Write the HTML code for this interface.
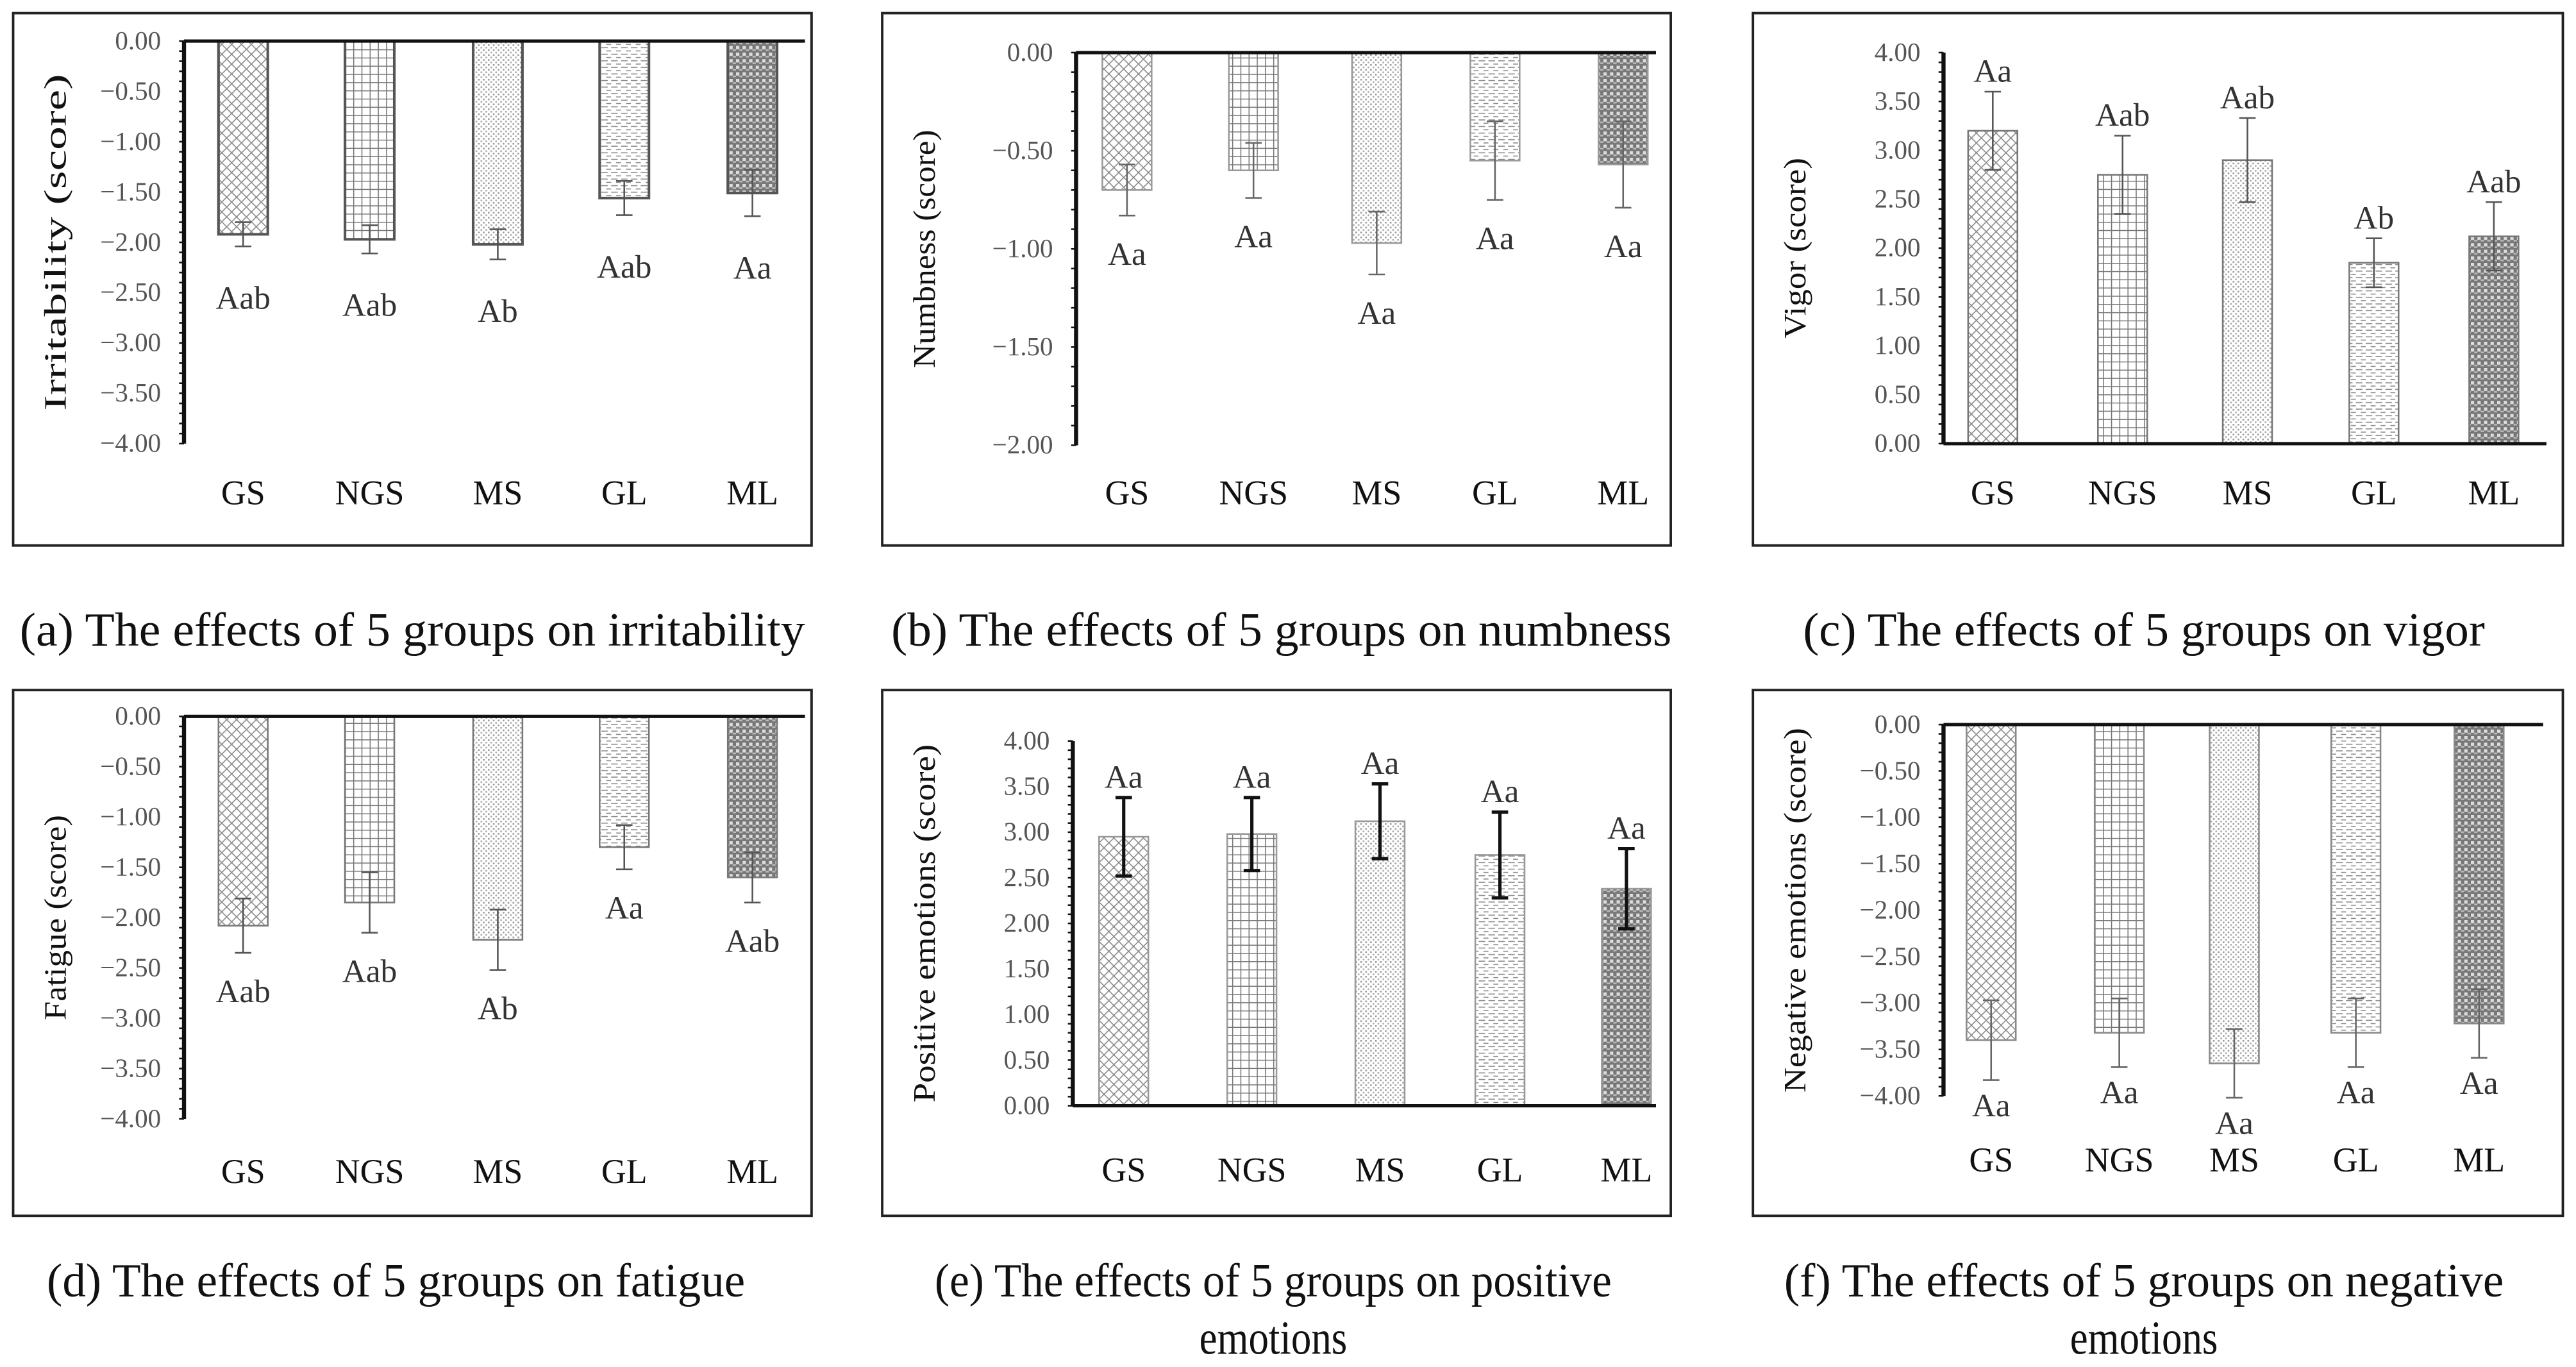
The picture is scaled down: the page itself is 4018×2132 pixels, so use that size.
<!DOCTYPE html>
<html><head><meta charset="utf-8"><style>
html,body{margin:0;padding:0;background:#fff;}
svg{display:block;font-family:"Liberation Serif","Times New Roman",serif;}
svg text{font-family:"Liberation Serif","Times New Roman",serif;}
</style></head><body>
<svg id="fig" width="4018" height="2132" viewBox="0 0 1568 832" preserveAspectRatio="none" font-family="Liberation Serif, serif" xmlns="http://www.w3.org/2000/svg">
<defs>
<pattern id="p0" patternUnits="userSpaceOnUse" width="6" height="6"><rect width="6" height="6" fill="#fff"/><path d="M0 0L6 6M6 0L0 6" stroke="#888" stroke-width="0.6"/></pattern>
<pattern id="p1" patternUnits="userSpaceOnUse" width="5" height="5"><rect width="5" height="5" fill="#fff"/><path d="M0 0.3H5M0.3 0V5" stroke="#777" stroke-width="0.6"/></pattern>
<pattern id="p2" patternUnits="userSpaceOnUse" width="3" height="3"><rect width="3" height="3" fill="#fff"/><rect x="0" y="0" width="1" height="1" fill="#999"/><rect x="1.5" y="1.5" width="1" height="1" fill="#aaa"/></pattern>
<pattern id="p3" patternUnits="userSpaceOnUse" width="6" height="4"><rect width="6" height="4" fill="#fff"/><path d="M0 1H4" stroke="#888" stroke-width="0.6"/><path d="M3 3H7" stroke="#888" stroke-width="0.6"/></pattern>
<pattern id="p4" patternUnits="userSpaceOnUse" width="4" height="4"><rect width="4" height="4" fill="#777"/><rect x="0" y="0" width="2" height="2" fill="#ddd"/><rect x="2" y="2" width="2" height="1" fill="#bbb"/></pattern>
</defs>
</svg>
<script>
const categories = ["GS","NGS","MS","GL","ML"];
const valsA = [-1.92,-1.97,-2.02,-1.56,-1.51];
const errsA = [0.12,0.14,0.15,0.17,0.23];
const lettersA = ["Aab","Aab","Ab","Aab","Aa"];
const valsB = [-0.70,-0.60,-0.97,-0.55,-0.57];
const errsB = [0.13,0.14,0.16,0.20,0.22];
const lettersB = ["Aa","Aa","Aa","Aa","Aa"];
const valsC = [3.20,2.75,2.90,1.85,2.12];
const errsC = [0.40,0.40,0.43,0.25,0.35];
const lettersC = ["Aa","Aab","Aab","Ab","Aab"];
const valsD = [-2.08,-1.85,-2.22,-1.30,-1.60];
const errsD = [0.27,0.30,0.30,0.22,0.25];
const lettersD = ["Aab","Aab","Ab","Aa","Aab"];
const valsE = [2.95,2.98,3.12,2.75,2.38];
const errsE = [0.43,0.40,0.41,0.47,0.44];
const lettersE = ["Aa","Aa","Aa","Aa","Aa"];
const valsF = [-3.40,-3.32,-3.65,-3.32,-3.22];
const errsF = [0.43,0.37,0.37,0.37,0.37];
const lettersF = ["Aa","Aa","Aa","Aa","Aa"];
const ticksNeg4 = [0,-0.5,-1,-1.5,-2,-2.5,-3,-3.5,-4];
const ticksNeg2 = [0,-0.5,-1,-1.5,-2];
const ticksPos4 = [0,0.5,1,1.5,2,2.5,3,3.5,4];

const NS="http://www.w3.org/2000/svg";
const svg=document.getElementById('fig');
const FF='"Liberation Serif", serif';
function mk(tag,attrs,parent){const e=document.createElementNS(NS,tag);for(const k in attrs)e.setAttribute(k,attrs[k]);if(tag==='text')e.setAttribute('font-family',FF);(parent||svg).appendChild(e);return e;}
function fmt(v){const s=Math.abs(v).toFixed(2);return v<0?'\u2212'+s:s;}

const panels=[
 {id:'a',frame:[8,8,486,324],ax:112,xEnd:490,yMin:-4,yMax:0,yAtMin:270,yAtMax:25,cx:[148,225,303,380,458],labY:307,ticks:ticksNeg4,vals:valsA,errs:errsA,letters:lettersA,lo:38,title:'Irritability (score)',tl:205,cap:['(a) The effects of 5 groups on irritability'],capL:[478],capX:251,err:'#555',ew:1,barStroke:'#555',bw:1.6},
 {id:'b',frame:[537,8,480,324],ax:655,xEnd:1008,yMin:-2,yMax:0,yAtMin:271,yAtMax:32,cx:[686,763,838,910,988],labY:307,ticks:ticksNeg2,vals:valsB,errs:errsB,letters:lettersB,lo:30,title:'Numbness (score)',tl:145,cap:['(b) The effects of 5 groups on numbness'],capL:[475],capX:780,err:'#666',ew:1,barStroke:'#999',bw:1},
 {id:'c',frame:[1067,8,493,324],ax:1183,xEnd:1550,yMin:0,yMax:4,yAtMin:270,yAtMax:32,cx:[1213,1292,1368,1445,1518],labY:307,ticks:ticksPos4,vals:valsC,errs:errsC,letters:lettersC,lo:-6,title:'Vigor (score)',tl:110,cap:['(c) The effects of 5 groups on vigor'],capX:1305,capL:[415],err:'#555',ew:1,barStroke:'#777',bw:1},
 {id:'d',frame:[8,420,486,320],ax:112,xEnd:490,yMin:-4,yMax:0,yAtMin:681,yAtMax:436,cx:[148,225,303,380,458],labY:720,ticks:ticksNeg4,vals:valsD,errs:errsD,letters:lettersD,lo:30,title:'Fatigue (score)',tl:125,cap:['(d) The effects of 5 groups on fatigue'],capL:[425],capX:241,err:'#555',ew:1,barStroke:'#777',bw:1},
 {id:'e',frame:[537,420,480,320],ax:653,xEnd:1008,yMin:0,yMax:4,yAtMin:673,yAtMax:451,cx:[684,762,840,913,990],labY:719,ticks:ticksPos4,vals:valsE,errs:errsE,letters:lettersE,lo:-6,title:'Positive emotions (score)',tl:218,cap:['(e) The effects of 5 groups on positive','emotions'],capL:[412,90],capX:775,err:'#111',ew:2,barStroke:'#999',bw:1},
 {id:'f',frame:[1067,420,493,320],ax:1183,xEnd:1548,yMin:-4,yMax:0,yAtMin:667,yAtMax:441,cx:[1212,1290,1360,1434,1509],labY:713,ticks:ticksNeg4,vals:valsF,errs:errsF,letters:lettersF,lo:22,title:'Negative emotions (score)',tl:222,cap:['(f) The effects of 5 groups on negative','emotions'],capL:[438,90],capX:1305,err:'#666',ew:1,barStroke:'#888',bw:1}
];

panels.forEach(p=>{
 const g=mk('g',{});
 
 
 const y=v=>p.yAtMax+(v-p.yMax)/(p.yMin-p.yMax)*(p.yAtMin-p.yAtMax);
 const fr=mk('rect',{x:p.frame[0],y:p.frame[1],width:p.frame[2],height:p.frame[3],fill:'none',stroke:'#222','stroke-width':1.5},g);
 
 
 p.vals.forEach((v,i)=>{
  const top=Math.min(y(v),y(0)),h=Math.abs(y(v)-y(0));
  const b=mk('rect',{x:p.cx[i]-15,y:top,width:30,height:h,fill:'url(#p'+i+')',stroke:p.barStroke,'stroke-width':p.bw},g);
  
  
  const e1=y(v-p.errs[i]),e2=y(v+p.errs[i]);
  const eb=mk('path',{d:`M${p.cx[i]} ${e1}V${e2}M${p.cx[i]-5} ${e1}H${p.cx[i]+5}M${p.cx[i]-5} ${e2}H${p.cx[i]+5}`,stroke:p.err,'stroke-width':p.ew,fill:'none'},g);
  
  
  const ly=v<0?Math.max(e1,e2)+p.lo:Math.min(e1,e2)+p.lo;
  const lt=mk('text',{x:p.cx[i],y:ly,'font-size':20,'text-anchor':'middle',fill:'#333'},g);
  lt.textContent=p.letters[i];
  
  
  const cl=mk('text',{x:p.cx[i],y:p.labY,'font-size':21,'text-anchor':'middle',fill:'#111'},g);
  cl.textContent=categories[i];
  
  
 });
 const yTop=Math.min(y(p.yMin),y(p.yMax)),yBot=Math.max(y(p.yMin),y(p.yMax));
 const ya=mk('line',{x1:p.ax,y1:yTop,x2:p.ax,y2:yBot,stroke:'#111','stroke-width':2.5},g);
 
 
 for(let k=0;k<=Math.round((p.yMax-p.yMin)/0.1);k++){
  const v=p.yMin+k*0.1;
  mk('line',{x1:p.ax-3,y1:y(v),x2:p.ax,y2:y(v),stroke:'#111','stroke-width':1},g);
 }
 const za=mk('line',{x1:p.ax,y1:y(0),x2:p.xEnd,y2:y(0),stroke:'#111','stroke-width':2},g);
 
 
 p.ticks.forEach(t=>{
  const tl=mk('text',{x:p.ax-14,y:y(t)+5,'font-size':16,'text-anchor':'end',fill:'#555'},g);
  tl.textContent=fmt(t);
  
  
 });
 const my=(yTop+yBot)/2;
 const tt=mk('text',{x:0,y:0,'font-size':19,'text-anchor':'middle',fill:'#111',textLength:p.tl,lengthAdjust:'spacingAndGlyphs',transform:`translate(${p.frame[0]+32},${my}) rotate(-90)`},g);
 tt.textContent=p.title;
 
 
 p.cap.forEach((c,j)=>{
  const ct=mk('text',{x:p.capX,y:(p.frame[1]<100?393:789)+j*35,'font-size':29,'text-anchor':'middle',fill:'#111',textLength:p.capL[j],lengthAdjust:'spacingAndGlyphs'},g);
  ct.textContent=c;
  
  
 });
});
</script>
</body></html>
